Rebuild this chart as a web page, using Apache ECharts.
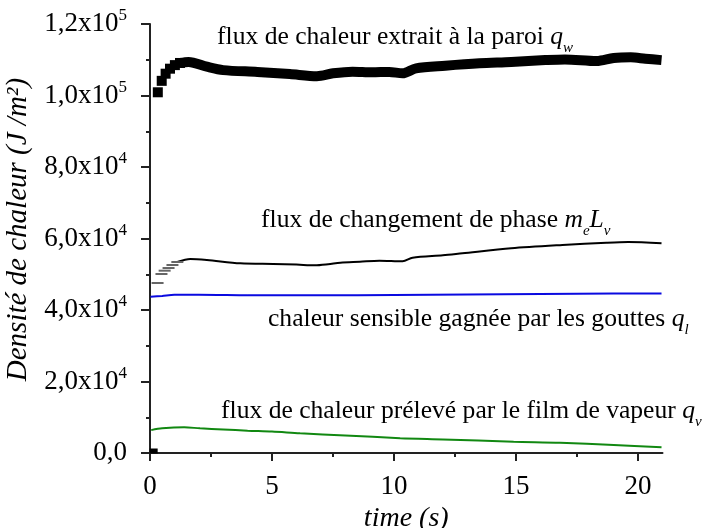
<!DOCTYPE html>
<html><head><meta charset="utf-8">
<script src="https://cdn.jsdelivr.net/npm/echarts@6/dist/echarts.min.js"></script>
<style>html,body{margin:0;padding:0;background:#fff}#c{width:702px;height:528px}</style>
</head><body><div id="c"></div>
<script>
// ---- data ----
const xTicks = [0, 5, 10, 15, 20];
const xMinorTicks = [2.5, 7.5, 12.5, 17.5];
const yTicks = [0, 20000, 40000, 60000, 80000, 100000, 120000];

const qwStart = [[0.15, 0]];
const qwEarly = [[0.32,100900],[0.48,104100],[0.64,106100],[0.82,107500],[1.02,108500],[1.23,109100]];
const qw = [[1.23,109100],[1.58,109400],[2.33,108050],[3.0,107100],[4.4,106600],[5.73,106000],[6.84,105400],[7.5,106200],[8.3,106650],[9.1,106480],[9.8,106600],[10.35,106200],[10.9,107600],[12.1,108330],[13.5,109000],[14.8,109360],[16.2,109900],[17.0,110100],[18.3,109640],[19.0,110480],[19.7,110680],[20.3,110290],[20.96,109900]];
const meLvEarly = [[0.31,47550],[0.47,50070],[0.6,51000],[0.76,51740],[0.92,52580],[1.12,53420]];
const meLv = [[1.12,53420],[1.65,54260],[2.33,53980],[3.7,53060],[5.05,52860],[6.0,52700],[6.76,52500],[7.3,52800],[7.8,53230],[8.6,53500],[9.4,53790],[10.35,53620],[10.76,54630],[12.0,55300],[12.8,55860],[14.8,57250],[16.9,58180],[18.7,58820],[19.6,59020],[20.96,58650]];
const ql = [[0.02,43700],[0.5,43950],[1.0,44250],[2,44300],[4,44150],[7,44100],[10,44200],[13,44350],[16,44450],[19,44600],[20.96,44650]];
const qv = [[0.05,6400],[0.5,6900],[1.4,7200],[2.05,6900],[3.0,6600],[4.0,6250],[5.0,6000],[6.15,5500],[8,4900],[10.25,4150],[12,3800],[14.9,3160],[16.8,2880],[19,2250],[20.96,1600]];

const chart = echarts.init(document.getElementById('c'), null, {renderer: 'canvas'});
const FONT = "'Liberation Serif', 'Times New Roman', 'DejaVu Serif', serif";
const axisCol = '#222';

function yLabel(v) {
  if (v === 0) return '{m|0,0}';
  const e = Math.floor(Math.log10(v) + 1e-9);
  const m = (v / Math.pow(10, e)).toFixed(1).replace('.', ',');
  return '{m|' + m + 'x10}{s|' + e + '}';
}

const option = {
  animation: false,
  backgroundColor: '#fff',
  textStyle: {fontFamily: FONT},
  grid: {left: 150, right: 39.5, top: 24, bottom: 75, containLabel: false, outerBoundsMode: 'none'},
  xAxis: [{
    type: 'value', min: 0, max: 21, interval: 5,
    name: 'time (s)', nameLocation: 'middle', nameGap: 52,
    nameTextStyle: {fontFamily: FONT, fontStyle: 'italic', fontSize: 28, color: '#000'},
    axisLine: {show: true, lineStyle: {color: axisCol, width: 2}},
    axisTick: {show: true, length: 8, customValues: xTicks, lineStyle: {color: axisCol, width: 2}},
    axisLabel: {customValues: xTicks, fontFamily: FONT, fontSize: 27, color: '#000', margin: 20},
    splitLine: {show: false}
  }, {
    type: 'value', min: 0, max: 21, position: 'bottom',
    axisLine: {show: false},
    axisTick: {show: true, length: 4, customValues: xMinorTicks, lineStyle: {color: axisCol, width: 2}},
    axisLabel: {show: false},
    splitLine: {show: false}
  }],
  yAxis: {
    type: 'value', min: 0, max: 120000, interval: 20000,
    name: 'Densité de chaleur (J /m²)', nameLocation: 'middle', nameGap: 92,
    nameTextStyle: {fontFamily: FONT, fontStyle: 'italic', fontSize: 29, color: '#000', padding: [0, 0, 0, 18]},
    axisLine: {show: true, lineStyle: {color: axisCol, width: 2}},
    axisTick: {show: true, length: 9, lineStyle: {color: axisCol, width: 2}},
    minorTick: {show: true, splitNumber: 2, length: 4, lineStyle: {color: axisCol, width: 2}},
    axisLabel: {
      margin: 23,
      formatter: yLabel,
      rich: {
        m: {fontFamily: FONT, fontSize: 27, color: '#000', lineHeight: 27},
        s: {fontFamily: FONT, fontSize: 17, color: '#000', lineHeight: 33, verticalAlign: 'top'}
      }
    },
    splitLine: {show: false}
  },
  series: [
    {type: 'scatter', data: qwEarly, symbol: 'rect', symbolSize: 10,
     itemStyle: {color: '#000', opacity: 1}, z: 5},
    {type: 'line', data: qw, smooth: 0.3, showSymbol: false,
     lineStyle: {color: '#000', width: 10, join: 'round', cap: 'butt'}, z: 5},
    {type: 'scatter', data: qwStart, symbol: 'rect', symbolSize: [8, 5], symbolOffset: [0, -2],
     itemStyle: {color: '#000', opacity: 1}, z: 5},
    {type: 'scatter', data: meLvEarly, symbol: 'rect', symbolSize: [12, 2],
     itemStyle: {color: '#666', opacity: 1}, z: 4},
    {type: 'line', data: meLv, smooth: 0.3, showSymbol: false,
     lineStyle: {color: '#000', width: 2}, z: 4},
    {type: 'line', data: ql, smooth: 0.3, showSymbol: false,
     lineStyle: {color: '#0a0ae0', width: 2}, z: 3},
    {type: 'line', data: qv, smooth: 0.3, showSymbol: false,
     lineStyle: {color: '#118811', width: 2}, z: 3}
  ]
};

const annRich = {
  t: {fontFamily: FONT, fontSize: 25.6, color: '#000', lineHeight: 30},
  i: {fontFamily: FONT, fontSize: 25.6, fontStyle: 'italic', color: '#000', lineHeight: 30},
  b: {fontFamily: FONT, fontSize: 15, fontStyle: 'italic', color: '#000', lineHeight: 38, verticalAlign: 'bottom'}
};
const annotations = [
  {x: 217, y: 37, text: '{t|flux de chaleur extrait à la paroi }{i|q}{b|w}'},
  {x: 261, y: 220, text: '{t|flux de changement de phase }{i|m}{b|e}{i|L}{b|v}'},
  {x: 268, y: 319, text: '{t|chaleur sensible gagnée par les gouttes }{i|q}{b|l}'},
  {x: 221, y: 411, text: '{t|flux de chaleur prélevé par le film de vapeur }{i|q}{b|v}'}
];
option.graphic = annotations.map(a => ({
  type: 'text', x: a.x, y: a.y, z: 10,
  style: {text: a.text, rich: annRich, align: 'left', verticalAlign: 'middle'}
}));

chart.setOption(option);
</script></body></html>
